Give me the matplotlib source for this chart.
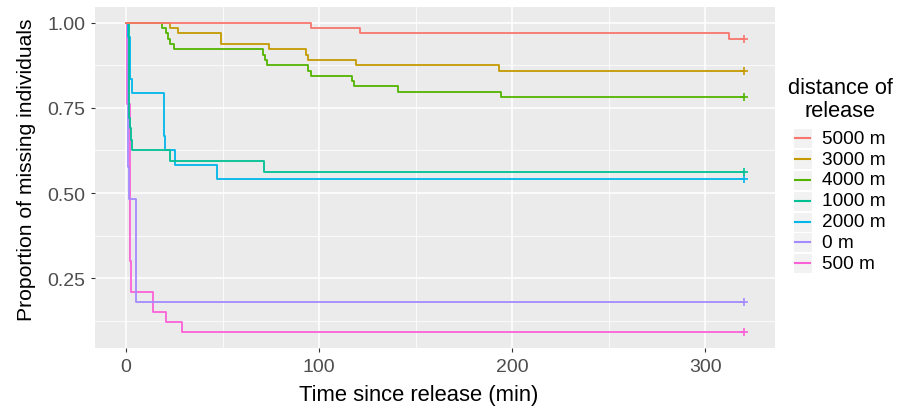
import matplotlib
matplotlib.use("Agg")
import matplotlib.pyplot as plt
from matplotlib.patches import Rectangle
from matplotlib.lines import Line2D

plt.rcParams['font.family'] = ['Liberation Sans', 'DejaVu Sans']

# survival curves: event times (min) and proportion left
labels = ['5000 m', '3000 m', '4000 m', '1000 m', '2000 m', '0 m', '500 m']
colors = ['#F8766D', '#C49A00', '#53B400', '#00C094', '#00B6EB', '#A58AFF', '#FB61D7']

t_5000 = [0, 96, 121, 312, 320]
s_5000 = [1.0, 0.984, 0.969, 0.953, 0.953]

t_3000 = [0, 23, 27, 49, 74, 93, 94, 119, 193, 320]
s_3000 = [1.0, 0.984, 0.969, 0.938, 0.922, 0.906, 0.891, 0.875, 0.859, 0.859]

t_4000 = [0, 18.5, 21, 22, 23, 25, 71, 72, 73, 94, 96, 117, 118, 141, 194, 320]
s_4000 = [1.0, 0.984, 0.969, 0.953, 0.938, 0.922, 0.906, 0.891, 0.875,
          0.859, 0.844, 0.828, 0.813, 0.797, 0.781, 0.781]

t_1000 = [0, 1.5, 2.0, 2.7, 3.4, 23, 71.5, 320]
s_1000 = [1.0, 0.72, 0.69, 0.656, 0.625, 0.594, 0.562, 0.562]

t_2000 = [0, 1.0, 2.2, 3.0, 19.5, 20.2, 25.5, 47, 320]
s_2000 = [1.0, 0.957, 0.833, 0.792, 0.667, 0.625, 0.583, 0.542, 0.542]

t_0 = [0, 0.9, 1.5, 5.0, 320]
s_0 = [1.0, 0.577, 0.483, 0.181, 0.181]

t_500 = [0, 0.6, 1.9, 2.6, 14, 21, 29, 320]
s_500 = [1.0, 0.76, 0.30, 0.21, 0.152, 0.121, 0.091, 0.091]

times = [t_5000, t_3000, t_4000, t_1000, t_2000, t_0, t_500]
survs = [s_5000, s_3000, s_4000, s_1000, s_2000, s_0, s_500]

fig = plt.figure(figsize=(9.06, 4.10), dpi=100)
ax = fig.add_axes([95 / 906, 61 / 410, 680 / 906, 341 / 410])
ax.set_facecolor('#EBEBEB')
for sp in ax.spines.values():
    sp.set_visible(False)

# draw in reverse so the first groups end on top like ggplot
for t, s, c in list(zip(times, survs, colors))[::-1]:
    ax.step(t, s, where='post', color=c, lw=1.3, zorder=3)
    ax.plot(t[-1], s[-1], marker='+', color=c, ms=6, mew=1.2, zorder=4)

ax.set_xlim(-16, 336)
ax.set_ylim(0.0455, 1.0455)
ax.set_xticks([0, 100, 200, 300])
ax.set_xticks([50, 150, 250], minor=True)
ax.set_yticks([0.25, 0.5, 0.75, 1.0])
ax.set_yticklabels(['0.25', '0.50', '0.75', '1.00'])
ax.set_yticks([0.125, 0.375, 0.625, 0.875], minor=True)
ax.grid(which='major', color='white', lw=1.1, zorder=0)
ax.grid(which='minor', color='white', lw=0.55, zorder=0)
ax.set_axisbelow(True)
ax.tick_params(which='major', length=3, width=0.8, color='#333333',
               labelcolor='#4D4D4D', labelsize=14, pad=4)
ax.tick_params(which='minor', length=0)

# axis titles placed where they sit in the reference
fig.text(419 / 906, 1 - 396 / 410, 'Time since release (min)', ha='center', va='center',
         fontsize=15.8)
fig.text(27 / 906, 1 - 170 / 410, 'Proportion of missing individuals', ha='center',
         va='center', rotation=90, fontsize=15.2)

# legend drawn by hand to get ggplot-style grey key boxes
fig.text(840 / 906, 1 - 100 / 410, 'distance of\nrelease', ha='center', va='center',
         fontsize=15.7, linespacing=1.15)
for i, (lab, c) in enumerate(zip(labels, colors)):
    yc = 1 - (139.3 + i * 20.8) / 410
    fig.patches.append(Rectangle((793 / 906, yc - 10 / 410), 19 / 906, 20 / 410,
                                 transform=fig.transFigure, facecolor='#F2F2F2',
                                 edgecolor='white', lw=0.8))
    fig.lines.append(Line2D([795 / 906, 810 / 906], [yc, yc], transform=fig.transFigure,
                            color=c, lw=1.5))
    fig.text(822 / 906, yc, lab, ha='left', va='center', fontsize=13.7)

fig.savefig('out.png', dpi=100)
